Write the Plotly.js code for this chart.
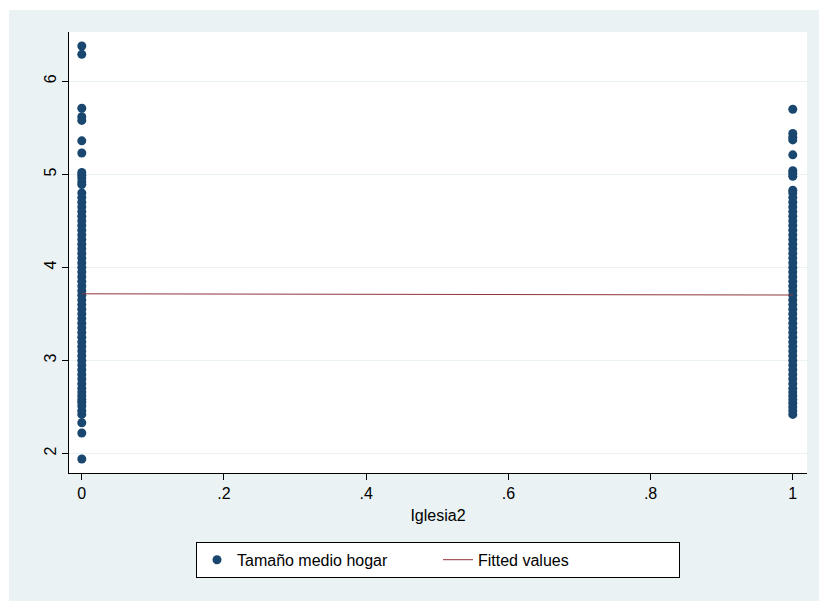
<!DOCTYPE html>
<html>
<head>
<meta charset="utf-8">
<script src="https://cdn.plot.ly/plotly-3.0.1.min.js"></script>
<style>
html,body{margin:0;padding:0;background:#ffffff;width:819px;height:601px;overflow:hidden;}
#chart{position:absolute;left:9px;top:10px;width:810px;height:591px;}
</style>
</head>
<body>
<div id="chart"></div>
<script>
// Tamaño medio hogar for Iglesia2 = 0
const hogar0 = [6.38, 6.29, 5.71, 5.62, 5.58, 5.36, 5.23, 5.02, 4.99, 4.96, 4.92, 4.89,
  4.80, 4.75, 4.70, 4.65, 4.60, 4.55, 4.50, 4.45, 4.40, 4.35, 4.30, 4.25, 4.20, 4.15, 4.10, 4.05,
  4.00, 3.95, 3.90, 3.85, 3.80, 3.75, 3.70, 3.65, 3.60, 3.55, 3.50, 3.45, 3.40, 3.35, 3.30, 3.25,
  3.20, 3.15, 3.10, 3.05, 3.00, 2.95, 2.90, 2.85, 2.80, 2.75, 2.70,
  2.66, 2.62, 2.58, 2.55, 2.51, 2.46, 2.42, 2.33, 2.22, 1.94];
// Tamaño medio hogar for Iglesia2 = 1
const hogar1 = [5.70, 5.44, 5.40, 5.37, 5.21, 5.04, 5.01, 4.98, 4.83,
  4.80, 4.75, 4.70, 4.65, 4.60, 4.55, 4.50, 4.45, 4.40, 4.35, 4.30, 4.25, 4.20, 4.15, 4.10, 4.05,
  4.00, 3.95, 3.90, 3.85, 3.80, 3.75, 3.70, 3.65, 3.60, 3.55, 3.50, 3.45, 3.40, 3.35, 3.30, 3.25,
  3.20, 3.15, 3.10, 3.05, 3.00, 2.95, 2.90, 2.85, 2.80, 2.75, 2.70, 2.66, 2.62,
  2.58, 2.54, 2.50, 2.46, 2.42];
const fitX = [0, 1];
const fitY = [3.716, 3.703];
const xTickVals = [0, 0.2, 0.4, 0.6, 0.8, 1];
const xTickText = ['0', '.2', '.4', '.6', '.8', '1'];
const yTickVals = [2, 3, 4, 5, 6];

const scX = hogar0.map(() => 0).concat(hogar1.map(() => 1));
const scY = hogar0.concat(hogar1);

const traces = [
  {
    type: 'scatter', mode: 'markers', name: 'Tamaño medio hogar',
    x: scX, y: scY,
    marker: {color: '#1a476f', size: 9, symbol: 'circle'},
    cliponaxis: false
  },
  {
    type: 'scatter', mode: 'lines', name: 'Fitted values',
    x: fitX, y: fitY,
    line: {color: '#90353b', width: 1}
  }
];

const layout = {
  width: 810, height: 591,
  paper_bgcolor: '#eaf2f3',
  plot_bgcolor: '#ffffff',
  margin: {l: 60, r: 12, t: 22, b: 128},
  font: {family: 'Liberation Sans, Arial, sans-serif', color: '#000000', size: 16},
  showlegend: true,
  xaxis: {
    range: [-0.018, 1.02],
    tickvals: xTickVals, ticktext: xTickText,
    ticks: 'outside', ticklen: 6, tickcolor: '#000000', tickwidth: 1,
    showline: true, linecolor: '#000000', linewidth: 1,
    showgrid: false, zeroline: false,
    tickfont: {size: 16},
    title: {text: 'Iglesia2', font: {size: 16}, standoff: 8}
  },
  yaxis: {
    range: [1.79, 6.53],
    tickvals: yTickVals,
    ticks: 'outside', ticklen: 6, tickcolor: '#000000', tickwidth: 1,
    tickangle: -90,
    showline: true, linecolor: '#000000', linewidth: 1,
    showgrid: true, gridcolor: '#eaf2f3', gridwidth: 1,
    zeroline: false,
    tickfont: {size: 16}
  },
  legend: {
    orientation: 'h',
    x: 0.5, xanchor: 'center',
    y: -0.156, yanchor: 'top',
    bgcolor: '#ffffff', bordercolor: '#000000', borderwidth: 1,
    font: {size: 16},
    entrywidth: 196, entrywidthmode: 'pixels'
  }
};

Plotly.newPlot('chart', traces, layout, {displayModeBar: false, staticPlot: true});
</script>
</body>
</html>
